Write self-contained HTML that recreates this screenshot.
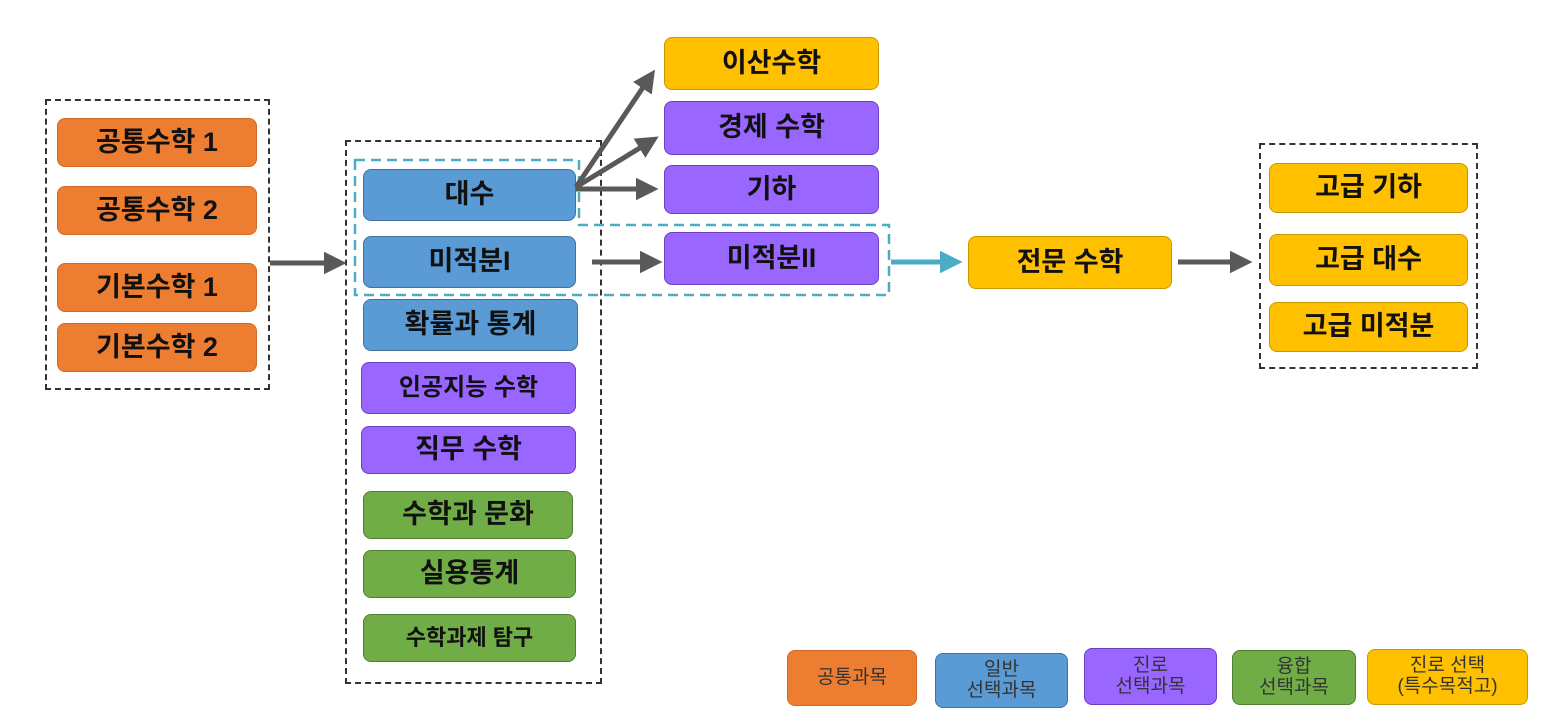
<!DOCTYPE html>
<html><head><meta charset="utf-8"><style>
body{margin:0;width:1560px;height:718px;background:#fff;position:relative;overflow:hidden;font-family:"Liberation Sans","Noto Sans CJK KR",sans-serif}
.b{position:absolute;box-sizing:border-box;border-radius:8px;display:flex;align-items:center;justify-content:center;font-weight:bold;font-size:27px;color:#111;text-align:center;line-height:1.1}
.o{background:#ED7D31;border:1px solid #d06a25}
.bl{background:#5B9BD5;border:1px solid #41719C}
.p{background:#9966FF;border:1px solid #6a3fc0}
.g{background:#70AD47;border:1px solid #507e32}
.y{background:#FFC000;border:1px solid #c99800}
.d{position:absolute;box-sizing:border-box;border:2px dashed #333}
.l{font-weight:normal;font-size:19px;color:#333}
svg{position:absolute;left:0;top:0}
</style></head><body>
<div class="d" style="left:45px;top:99px;width:225px;height:291px"></div>
<div class="d" style="left:345px;top:140px;width:257px;height:544px"></div>
<div class="d" style="left:1259px;top:143px;width:219px;height:226px"></div>

<div class="b o" style="left:57px;top:118px;width:200px;height:49px">공통수학 1</div>
<div class="b o" style="left:57px;top:186px;width:200px;height:49px">공통수학 2</div>
<div class="b o" style="left:57px;top:263px;width:200px;height:49px">기본수학 1</div>
<div class="b o" style="left:57px;top:323px;width:200px;height:49px">기본수학 2</div>

<div class="b bl" style="left:363px;top:169px;width:213px;height:52px">대수</div>
<div class="b bl" style="left:363px;top:236px;width:213px;height:52px">미적분I</div>
<div class="b bl" style="left:363px;top:299px;width:215px;height:52px">확률과 통계</div>
<div class="b p" style="left:361px;top:362px;width:215px;height:52px;font-size:24px">인공지능 수학</div>
<div class="b p" style="left:361px;top:426px;width:215px;height:48px">직무 수학</div>
<div class="b g" style="left:363px;top:491px;width:210px;height:48px">수학과 문화</div>
<div class="b g" style="left:363px;top:550px;width:213px;height:48px">실용통계</div>
<div class="b g" style="left:363px;top:614px;width:213px;height:48px;font-size:22px">수학과제 탐구</div>

<div class="b y" style="left:664px;top:37px;width:215px;height:53px">이산수학</div>
<div class="b p" style="left:664px;top:101px;width:215px;height:54px">경제 수학</div>
<div class="b p" style="left:664px;top:165px;width:215px;height:49px">기하</div>
<div class="b p" style="left:664px;top:232px;width:215px;height:53px">미적분II</div>

<div class="b y" style="left:968px;top:236px;width:204px;height:53px">전문 수학</div>
<div class="b y" style="left:1269px;top:163px;width:199px;height:50px">고급 기하</div>
<div class="b y" style="left:1269px;top:234px;width:199px;height:52px">고급 대수</div>
<div class="b y" style="left:1269px;top:302px;width:199px;height:50px">고급 미적분</div>

<div class="b o l" style="left:787px;top:650px;width:130px;height:56px">공통과목</div>
<div class="b bl l" style="left:935px;top:653px;width:133px;height:55px">일반<br>선택과목</div>
<div class="b p l" style="left:1084px;top:648px;width:133px;height:57px">진로<br>선택과목</div>
<div class="b g l" style="left:1232px;top:650px;width:124px;height:55px">융합<br>선택과목</div>
<div class="b y l" style="left:1367px;top:649px;width:161px;height:56px">진로 선택<br>(특수목적고)</div>

<svg width="1560" height="718">
<defs><marker id="a" markerWidth="4.5" markerHeight="4.5" refX="2" refY="2.25" orient="auto"><path d="M0,0L4.5,2.25L0,4.5z" fill="#595959"/></marker>
<marker id="t" markerWidth="4.5" markerHeight="4.5" refX="2" refY="2.25" orient="auto"><path d="M0,0L4.5,2.25L0,4.5z" fill="#4BACC6"/></marker></defs>
<path d="M355,160H579V225H889V295H355Z" fill="none" stroke="#4BACC6" stroke-width="2.5" stroke-dasharray="10,6"/>
<g stroke="#595959" stroke-width="5" fill="none">
<line x1="270" y1="263" x2="334" y2="263" marker-end="url(#a)"/>
<line x1="576" y1="187" x2="648" y2="80" marker-end="url(#a)"/>
<line x1="576" y1="187" x2="648" y2="143" marker-end="url(#a)"/>
<line x1="576" y1="189" x2="646" y2="189" marker-end="url(#a)"/>
<line x1="592" y1="262" x2="650" y2="262" marker-end="url(#a)"/>
<line x1="1178" y1="262" x2="1240" y2="262" marker-end="url(#a)"/>
</g>
<line x1="891" y1="262" x2="950" y2="262" stroke="#4BACC6" stroke-width="5" marker-end="url(#t)"/>
</svg>
</body></html>
